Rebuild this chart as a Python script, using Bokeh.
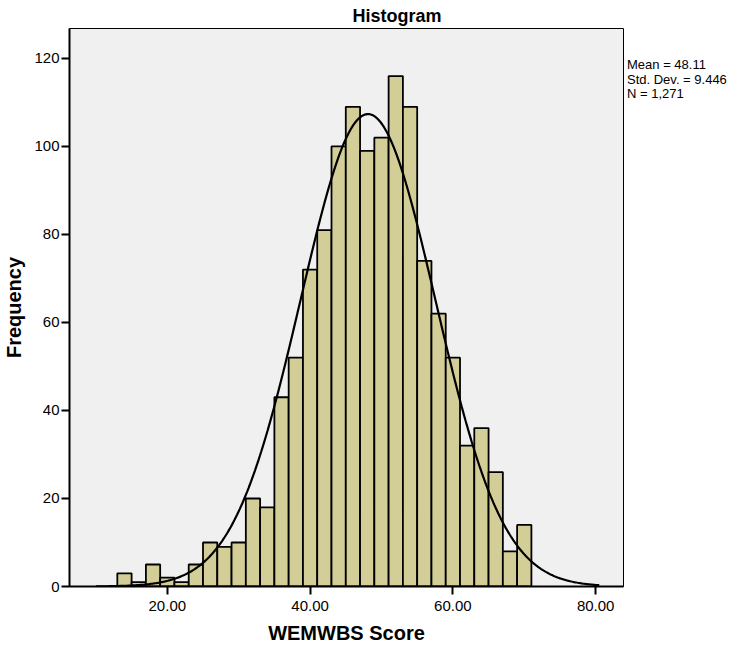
import numpy as np
from bokeh.plotting import figure
from bokeh.layouts import row
from bokeh.models import FixedTicker, NumeralTickFormatter, Range1d, Div
from bokeh.embed import file_html
from bokeh.resources import INLINE

# ---- data ----
bin_centers = [14, 16, 18, 20, 22, 24, 26, 28, 30, 32, 34, 36, 38, 40, 42,
               44, 46, 48, 50, 52, 54, 56, 58, 60, 62, 64, 66, 68, 70]
counts = [3, 1, 5, 2, 1, 5, 10, 9, 10, 20, 18, 43, 52, 72, 81,
          100, 109, 99, 102, 116, 109, 74, 62, 52, 32, 36, 26, 8, 14]
bin_width = 2
MEAN = 48.11
SD = 9.446
N = 1271
x_ticks = [20, 40, 60, 80]
y_ticks = [0, 20, 40, 60, 80, 100, 120]
stats_lines = ["Mean = 48.11", "Std. Dev. = 9.446", "N = 1,271"]

FONT = "Liberation Sans"

p = figure(width=627, height=648, output_backend="svg", toolbar_location=None,
           x_range=Range1d(6.3, 83.9), y_range=Range1d(0, 126.8),
           min_border_left=69, min_border_right=4, min_border_top=28,
           min_border_bottom=62)

p.background_fill_color = "#F0F0F0"
p.border_fill_color = "white"
p.outline_line_color = "black"
p.outline_line_width = 1
p.grid.visible = False

# title
p.title.text = "Histogram"
p.title.align = "left"
p.title.offset = 283
p.title.standoff = 4
p.title.vertical_align = "middle"
p.title.text_font = FONT
p.title.text_font_size = "18px"
p.title.text_font_style = "bold"
p.title.text_color = "black"

# bars
p.vbar(x=bin_centers, top=counts, width=bin_width, bottom=0,
       fill_color="#D3CE97", line_color="black", line_width=1.8)

# fitted normal curve
xs = np.linspace(10.0, 80.5, 400)
ys = N * bin_width * np.exp(-0.5 * ((xs - MEAN) / SD) ** 2) / (SD * np.sqrt(2 * np.pi))
p.line(xs, ys, line_color="black", line_width=2.2)

# axes
for ax in (p.xaxis[0], p.yaxis[0]):
    ax.axis_line_color = "black"
    ax.axis_line_width = 2
    ax.major_tick_line_color = "black"
    ax.major_tick_line_width = 2
    ax.major_tick_out = 8
    ax.major_tick_in = 0
    ax.minor_tick_line_color = None
    ax.major_label_text_font = FONT
    ax.major_label_text_font_size = "15px"
    ax.major_label_text_color = "black"
    ax.axis_label_text_font = FONT
    ax.axis_label_text_font_size = "20px"
    ax.axis_label_text_font_style = "bold"
    ax.axis_label_text_color = "black"

p.xaxis.ticker = FixedTicker(ticks=x_ticks)
p.xaxis.formatter = NumeralTickFormatter(format="0.00")
p.xaxis.axis_label = "WEMWBS Score"
p.xaxis.major_label_standoff = 6
p.xaxis.axis_label_standoff = 8

p.yaxis.ticker = FixedTicker(ticks=y_ticks)
p.yaxis.axis_label = "Frequency"
p.yaxis.major_label_standoff = 2
p.yaxis.axis_label_standoff = 6

# stats text to the right of the plot box
stats_html = ('<div style="font-family:\'Liberation Sans\',Arial,sans-serif;'
              'font-size:13px;line-height:14.5px;color:black;'
              'padding-top:53px;margin-left:-5px;white-space:nowrap;">'
              + "<br>".join(stats_lines) + "</div>")
stats = Div(text=stats_html, width=122, height=120)

layout = row(p, stats)

open("out.html", "w").write(file_html(layout, INLINE))
